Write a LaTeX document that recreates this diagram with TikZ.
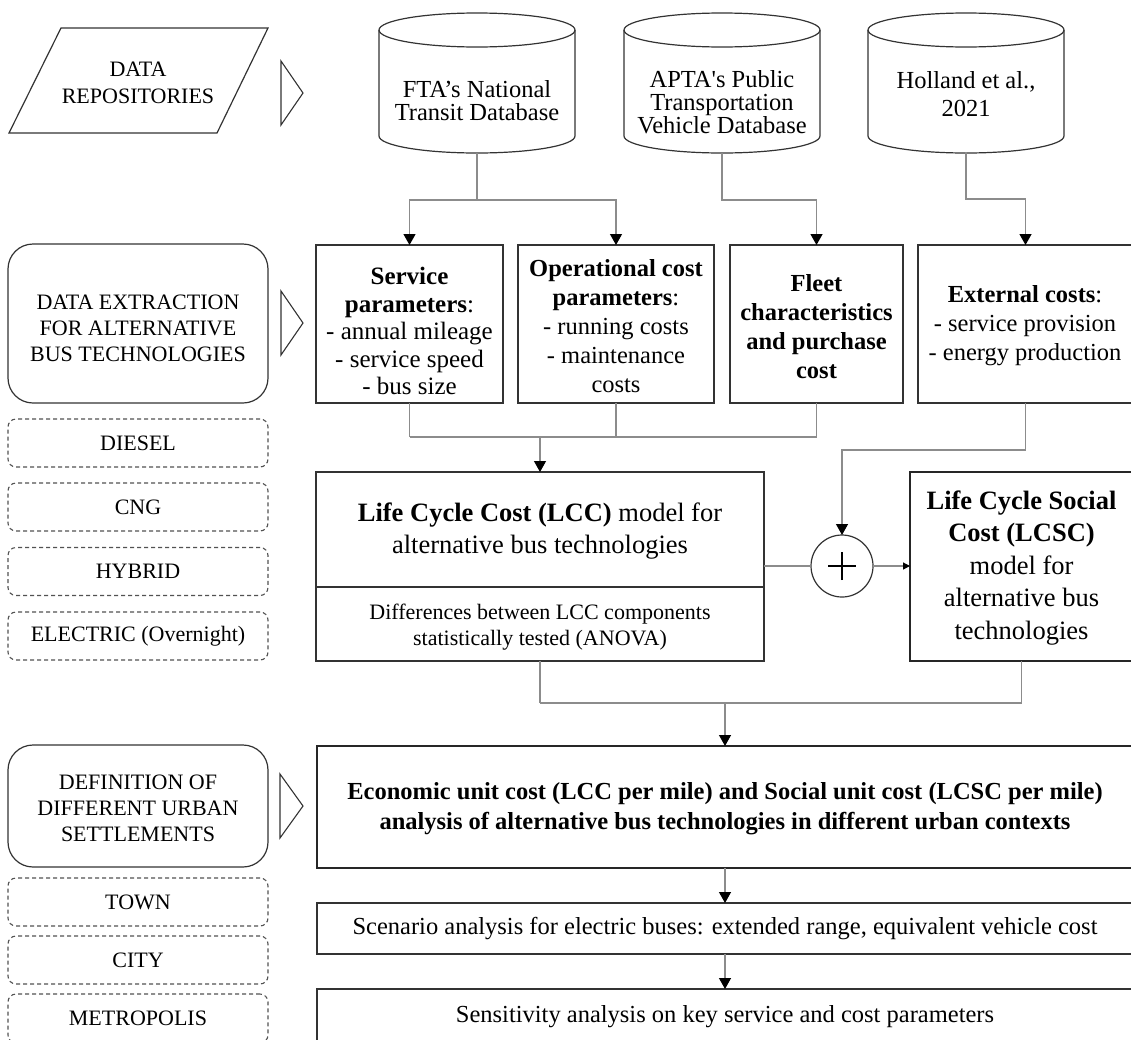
\documentclass[tikz,border=0pt]{standalone}
\usepackage{fontspec}
\setmainfont{Liberation Serif}
\usetikzlibrary{arrows.meta}
\definecolor{edgec}{HTML}{333333}
\definecolor{cgray}{HTML}{8C8C8C}
\newcommand\dbcyl[1]{%
  \draw[outl] (#1-98,30) -- (#1-98,136) .. controls (#1-98,145.4) and (#1-54.1,153) .. (#1,153)
     .. controls (#1+54.1,153) and (#1+98,145.4) .. (#1+98,136) -- (#1+98,30);
  \draw[outl] (#1,30) ellipse [x radius=98, y radius=17];
}
\begin{document}
\begin{tikzpicture}[x=1pt,y=-1pt,
  every node/.style={inner sep=0pt, outer sep=0pt, align=center, text=black},
  fs/.style={font=\fontsize{24.5}{29}\selectfont},
  fsleft/.style={font=\fontsize{22}{26}\selectfont},
  outl/.style={draw=edgec, line width=1.2pt},
  box/.style={draw=edgec, line width=1.2pt, rectangle},
  thickbox/.style={draw=black!85, line width=2.3pt, rectangle},
  lefthead/.style={draw=edgec, line width=1.2pt, rectangle, rounded corners=25pt, minimum width=260},
  tech/.style={draw=edgec!85, line width=1.1pt, dash pattern=on 4pt off 3pt, rectangle, rounded corners=8pt, minimum width=260, minimum height=48, fsleft},
  link/.style={draw=cgray, line width=1.2pt},
  arr/.style={link, -{Triangle[width=12pt,length=11pt,color=black]}},
  chev/.style={draw=edgec, line width=1.1pt, line join=miter},
]
\useasboundingbox (0,0) rectangle (1131,1039);
\clip (0,0) rectangle (1131,1039);

% ---------- left column ----------
\draw[outl] (61,28) -- (268,28) -- (217,133) -- (9,133) -- cycle;
\node[font=\fontsize{22}{27}\selectfont] (repo) at (138,83) {DATA\\REPOSITORIES};
\draw[chev] (281,61) -- (303,93) -- (281,125) -- cycle;

\node[lefthead, minimum height=159] (extr) at (138,323.5) {};
\node[fsleft] (extrT) at (138,328) {DATA EXTRACTION\\FOR ALTERNATIVE\\BUS TECHNOLOGIES};
\draw[chev] (281,291) -- (303,323) -- (281,355) -- cycle;

\node[tech] (diesel) at (138,443) {DIESEL};
\node[tech] (cng) at (138,507) {CNG};
\node[tech] (hybrid) at (138,571.5) {HYBRID};
\node[tech] (elec) at (138,636) {ELECTRIC (Overnight)};

\node[lefthead, minimum height=122] (defn) at (138,806) {};
\node[fsleft] (defnT) at (138,808) {DEFINITION OF\\DIFFERENT URBAN\\SETTLEMENTS};
\draw[chev] (280,774) -- (303,806) -- (280,838) -- cycle;

\node[tech] (town) at (138,902) {TOWN};
\node[tech] (city) at (138,960) {CITY};
\node[tech, minimum height=49] (metro) at (138,1018.5) {METROPOLIS};

% ---------- data repositories ----------
\dbcyl{477}
\dbcyl{722}
\dbcyl{966}
\node[font=\fontsize{24.5}{23}\selectfont] (fta) at (477,101) {FTA’s National\\Transit Database};
\node[font=\fontsize{24.5}{23}\selectfont] (apta) at (722,102) {APTA\textquotesingle s Public\\Transportation\\Vehicle Database};
\node[font=\fontsize{24.5}{28}\selectfont] (hol) at (966,94) {Holland et al.,\\2021};
\coordinate (ftaB) at (477,153);
\coordinate (aptaB) at (722,153);
\coordinate (holB) at (966,152);

% ---------- extracted data ----------
\node[box, minimum width=187, minimum height=158] (serv) at (409.5,324) {};
\node[font=\fontsize{25}{27.5}\selectfont] (servT) at (409.5,331) {\textbf{Service}\\\textbf{parameters}:\\- annual mileage\\- service speed\\- bus size};
\node[box, minimum width=196, minimum height=158] (op) at (616,324) {};
\node[fs] (opT) at (616,326) {\textbf{Operational cost}\\\textbf{parameters}:\\- running costs\\- maintenance\\costs};
\node[box, minimum width=173, minimum height=158] (fleet) at (816.5,324) {};
\node[fs] (fleetT) at (816.5,327) {\textbf{Fleet}\\\textbf{characteristics}\\\textbf{and purchase}\\\textbf{cost}};
\node[box, minimum width=215, minimum height=158] (ext) at (1025.5,324) {};
\node[fs] (extT) at (1025,326) {\textbf{External costs}:\\- service provision\\- energy production};

% ---------- models ----------
\node[box, minimum width=448, minimum height=115] (lccA) at (540,529.5) {};
\node[box, minimum width=448, minimum height=74] (lccB) at (540,624) {};
\node[font=\fontsize{26.5}{32}\selectfont] (lccT) at (540,531) {\textbf{Life Cycle Cost (LCC)} model for\\alternative bus technologies};
\node[font=\fontsize{22}{26}\selectfont] (lccBT) at (540,627) {Differences between LCC components\\statistically tested (ANOVA)};

\node[circle, draw=edgec, line width=1.2pt, minimum size=62] (circ) at (842,566) {};
\draw[line width=2.6pt] ([xshift=-14pt]circ.center) -- ([xshift=14pt]circ.center);
\draw[line width=2.6pt] ([yshift=-14pt]circ.center) -- ([yshift=14pt]circ.center);

\node[thickbox, minimum width=223, minimum height=189] (lcsc) at (1021.5,566.5) {};
\node[font=\fontsize{26.5}{32.5}\selectfont] (lcscT) at (1021.5,568) {\textbf{Life Cycle Social}\\\textbf{Cost (LCSC)}\\model for\\alternative bus\\technologies};

% ---------- analyses ----------
\node[thickbox, minimum width=816, minimum height=122] (econ) at (725,807) {};
\node[font=\fontsize{24.5}{30}\selectfont\bfseries] (econT) at (725,809) {Economic unit cost (LCC per mile) and Social unit cost (LCSC per mile)\\analysis of alternative bus technologies in different urban contexts};
\node[box, minimum width=816, minimum height=51, fs] (scen) at (725,928.5) {Scenario analysis for electric buses: extended range, equivalent vehicle cost};
\node[box, minimum width=816, minimum height=56, fs] (sens) at (725,1017) {Sensitivity analysis on key service and cost parameters};

% ---------- connectors ----------
\draw[link] (ftaB) -- ++(0,47) coordinate (ftaJ);
\draw[arr] (ftaJ) -| (serv.north);
\draw[arr] (ftaJ) -| (op.north);
\draw[arr] (aptaB) -- ++(0,47) -| (fleet.north);
\draw[arr] (holB) -- ++(0,47) -| (ext.north);

\draw[link] (serv.south) -- ++(0,34) coordinate (sb);
\draw[link] (op.south) -- ++(0,34);
\draw[link] (fleet.south) -- ++(0,34) coordinate (fb);
\draw[link] (sb) -- (fb);
\draw[arr] (lccA.north |- sb) -- (lccA.north);

\draw[arr] (ext.south) -- ++(0,47) -| (circ.north);
\draw[link] (lccA.east |- circ.west) -- (circ.west);
\draw[link, -{Triangle[width=7pt,length=7pt,color=black]}] (circ.east) -- (lcsc.west |- circ.east);

\draw[link] (lccB.south) -- ++(0,42) coordinate (lb);
\draw[link] (lcsc.south) -- ++(0,42) coordinate (rb);
\draw[link] (lb) -- (rb);
\draw[arr] (econ.north |- lb) -- (econ.north);
\draw[arr] (econ.south) -- (scen.north);
\draw[arr] (scen.south) -- (sens.north);
\end{tikzpicture}
\end{document}
